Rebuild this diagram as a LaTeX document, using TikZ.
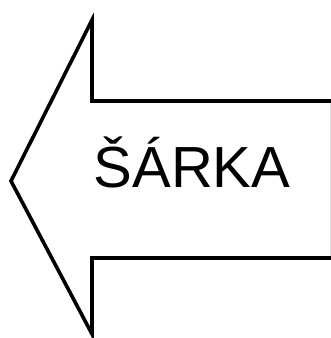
\documentclass[tikz,border=0pt]{standalone}
\usepackage{fontspec}
\setmainfont{Liberation Sans}
\begin{document}
\begin{tikzpicture}[x=1pt, y=1pt,
    arrowshape/.style={draw=black, line width=3.6pt, fill=white},
    label/.style={font=\fontsize{58}{62}\selectfont, inner sep=0pt, anchor=base}
]
    \useasboundingbox (0,0) rectangle (331,338);

    % arrow outline
    \draw[arrowshape] (11,157) -- (92,318) -- (92,237) -- (332.6,237)
        -- (332.6,80) -- (92,80) -- (92,4) -- cycle;

    % text
    \node[label] (name) at (192,150) {ŠÁRKA};
\end{tikzpicture}
\end{document}
